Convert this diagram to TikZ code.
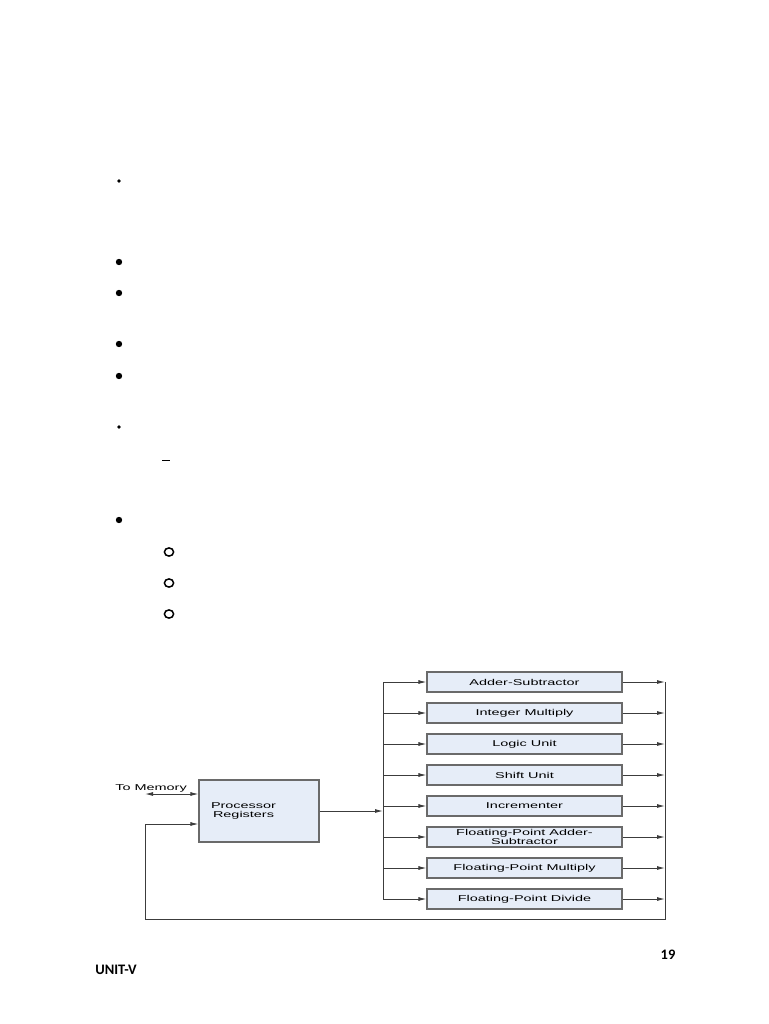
\documentclass[tikz,border=0pt]{standalone}
\usepackage{fontspec}
\usetikzlibrary{arrows.meta}
\newfontfamily\diagfont[FakeStretch=1.7]{Liberation Sans}
\newfontfamily\footfont{Carlito}
\definecolor{boxfill}{HTML}{E6EDF8}
\definecolor{boxline}{HTML}{6A6A6A}
\definecolor{linegray}{HTML}{3C3C3C}
\tikzset{
  unitbox/.style={draw=boxline, fill=boxfill, line width=1.1pt, minimum width=195pt,
    minimum height=20pt, inner sep=0pt, align=center,
    font=\diagfont\fontsize{8.5}{9}\selectfont},
  conn/.style={draw=linegray, line width=0.9pt, -{Latex[length=8pt,width=4pt]}},
  wire/.style={draw=linegray, line width=0.9pt},
  dot/.style={fill=black},
}
\begin{document}
\begin{tikzpicture}[x=1pt,y=-1pt]
  \useasboundingbox (0,0) rectangle (768,1024);
  % bullets of the slide text
  \fill[dot] (119,181) circle (1.8);
  \foreach \y in {262,293,344,376,520} \fill[dot] (119,\y) circle (3.2);
  \fill[dot] (119,427) circle (1.8);
  \draw[line width=1pt] (162,460) -- (170,460);
  \foreach \y in {552,583,614} \draw[line width=1.5pt] (169,\y) ellipse (4.6 and 4.1);
  % processor registers
  \node[unitbox, minimum width=120pt, minimum height=62pt, text width=96pt,
        align=left] (regs) at (259,811) {Processor\\\hspace{2pt}Registers};
  \node[font=\diagfont\fontsize{8.5}{9}\selectfont] (tomem) at (151,788) {To Memory};
  \coordinate (memend) at (145,794);
  \draw[wire, {Latex[length=8pt,width=4pt]}-{Latex[length=8pt,width=4pt]}]
    (memend) -- ([yshift=17pt]regs.west);
  % buses
  \coordinate (busLtop) at (383,682);
  \coordinate (busLbot) at (383,899);
  \coordinate (busRtop) at (665,682);
  \coordinate (busRbot) at (665,919);
  \coordinate (fbcorner) at (145,919);
  \draw[wire] (busLtop) -- (busLbot);
  \draw[conn] (regs.east) -- (regs.east -| busLtop);
  % function units
  \foreach \name/\label [count=\i from 0] in {addsub/Adder-Subtractor,
      intmul/Integer Multiply, logic/Logic Unit, shift/Shift Unit,
      incr/Incrementer, fpadd/{Floating-Point Adder-\\Subtractor},
      fpmul/Floating-Point Multiply, fpdiv/Floating-Point Divide} {
    \node[unitbox] (\name) at (524.5,682+31*\i) {\label};
    \draw[conn] (\name.west -| busLtop) -- (\name.west);
    \draw[conn] (\name.east) -- (\name.east -| busRtop);
  }
  % feedback to the registers
  \draw[conn] (busRtop) -- (busRbot) -- (fbcorner) |- ([yshift=-13pt]regs.west);
  % footer
  \node[font=\footfont\bfseries\fontsize{14.5}{16}\selectfont] (pagenum) at (668,955) {19};
  \node[font=\footfont\bfseries\fontsize{14.5}{16}\selectfont] (unit) at (116,970) {UNIT-V};
\end{tikzpicture}
\end{document}
